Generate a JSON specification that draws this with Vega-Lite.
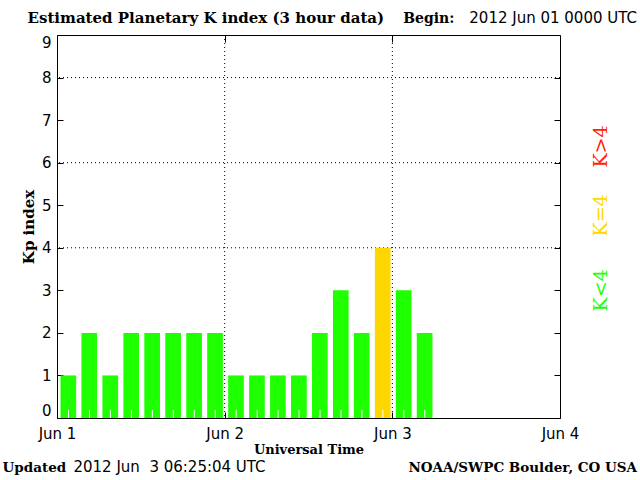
{
  "$schema": "https://vega.github.io/schema/vega-lite/v6.json",
  "width": 503,
  "height": 383,
  "autosize": {"type": "none"},
  "padding": {"left": 57, "top": 35, "right": 80, "bottom": 62},
  "background": "white",
  "config": {
    "view": {"stroke": "black", "strokeWidth": 1},
    "axis": {
      "labelFont": "DejaVu Sans",
      "labelFontSize": 15,
      "labelColor": "black",
      "titleFont": "DejaVu Serif",
      "titleFontWeight": "bold",
      "titleFontSize": 14,
      "titleColor": "black",
      "domain": false,
      "grid": false,
      "tickColor": "black",
      "tickWidth": 1
    }
  },
  "datasets": {
    "kp": [
      {"start": 0, "end": 3, "kp": 1},
      {"start": 3, "end": 6, "kp": 2},
      {"start": 6, "end": 9, "kp": 1},
      {"start": 9, "end": 12, "kp": 2},
      {"start": 12, "end": 15, "kp": 2},
      {"start": 15, "end": 18, "kp": 2},
      {"start": 18, "end": 21, "kp": 2},
      {"start": 21, "end": 24, "kp": 2},
      {"start": 24, "end": 27, "kp": 1},
      {"start": 27, "end": 30, "kp": 1},
      {"start": 30, "end": 33, "kp": 1},
      {"start": 33, "end": 36, "kp": 1},
      {"start": 36, "end": 39, "kp": 2},
      {"start": 39, "end": 42, "kp": 3},
      {"start": 42, "end": 45, "kp": 2},
      {"start": 45, "end": 48, "kp": 4},
      {"start": 48, "end": 51, "kp": 3},
      {"start": 51, "end": 54, "kp": 2}
    ],
    "one": [{}]
  },
  "resolve": {"axis": {"x": "independent", "y": "independent"}},
  "layer": [
    {
      "data": {"values": [{"level": 4}, {"level": 6}, {"level": 8}]},
      "mark": {"type": "rule", "color": "black", "strokeWidth": 1, "strokeDash": [1, 3]},
      "encoding": {
        "y": {
          "field": "level", "type": "quantitative",
          "scale": {"domain": [0, 9], "nice": false, "zero": false},
          "axis": {"orient": "right", "values": [0, 1, 2, 3, 4, 5, 6, 7, 8, 9], "labels": false, "tickSize": -6, "title": null}
        }
      }
    },
    {
      "data": {"values": [{"day": 24}, {"day": 48}]},
      "mark": {"type": "rule", "color": "black", "strokeWidth": 1, "strokeDash": [1, 3]},
      "encoding": {
        "x": {
          "field": "day", "type": "quantitative",
          "scale": {"domain": [0, 72], "nice": false, "zero": false},
          "axis": {"orient": "top", "values": [24, 48], "labels": false, "tickSize": -7, "title": null}
        }
      }
    },
    {
      "data": {"name": "kp"},
      "mark": {"type": "bar", "xOffset": 3.5, "x2Offset": -1.8},
      "encoding": {
        "x": {
          "field": "start", "type": "quantitative",
          "scale": {"domain": [0, 72], "nice": false, "zero": false},
          "axis": {
            "orient": "bottom", "values": [0, 24, 48, 72],
            "labelExpr": "'Jun ' + (datum.value / 24 + 1)",
            "tickSize": -6, "labelPadding": 14, "labelFlush": false,
            "title": "Universal Time", "titlePadding": 2, "titleFontSize": 13
          }
        },
        "x2": {"field": "end"},
        "y": {
          "field": "kp", "type": "quantitative",
          "scale": {"domain": [0, 9], "nice": false, "zero": false},
          "axis": {
            "orient": "left", "values": [0, 1, 2, 3, 4, 5, 6, 7, 8, 9],
            "tickSize": -6, "labelPadding": 12, "labelFlush": true, "labelFlushOffset": 0,
            "title": "Kp index", "titlePadding": 5, "titleFontSize": 15
          }
        },
        "y2": {"datum": 0},
        "color": {
          "condition": [
            {"test": "datum.kp > 4", "value": "#ff2200"},
            {"test": "datum.kp == 4", "value": "#ffd700"}
          ],
          "value": "#1eff00"
        }
      }
    },
    {
      "data": {"name": "kp"},
      "mark": {"type": "rule", "color": "white", "strokeWidth": 1, "xOffset": 11.5},
      "encoding": {
        "x": {"field": "start", "type": "quantitative", "scale": {"domain": [0, 72], "nice": false, "zero": false}, "axis": null},
        "y": {"datum": 0, "type": "quantitative", "scale": {"domain": [0, 9], "nice": false, "zero": false}, "axis": null},
        "y2": {"datum": 0.19}
      }
    },
    {
      "data": {"name": "one"},
      "mark": {"type": "text", "text": "Estimated Planetary K index (3 hour data)", "align": "left", "baseline": "alphabetic", "font": "DejaVu Serif", "fontWeight": "bold", "fontSize": 15, "color": "black"},
      "encoding": {
        "x": {"datum": -4.22, "type": "quantitative", "scale": {"domain": [0, 72], "nice": false, "zero": false}, "axis": null},
        "y": {"datum": 9.29, "type": "quantitative", "scale": {"domain": [0, 9], "nice": false, "zero": false}, "axis": null}
      }
    },
    {
      "data": {"name": "one"},
      "mark": {"type": "text", "text": "Begin:", "align": "left", "baseline": "alphabetic", "font": "DejaVu Serif", "fontWeight": "bold", "fontSize": 14, "color": "black"},
      "encoding": {
        "x": {"datum": 49.55, "type": "quantitative", "scale": {"domain": [0, 72], "nice": false, "zero": false}, "axis": null},
        "y": {"datum": 9.29, "type": "quantitative", "scale": {"domain": [0, 9], "nice": false, "zero": false}, "axis": null}
      }
    },
    {
      "data": {"name": "one"},
      "mark": {"type": "text", "text": "2012 Jun 01 0000 UTC", "align": "right", "baseline": "alphabetic", "font": "DejaVu Sans", "fontSize": 15, "color": "black"},
      "encoding": {
        "x": {"datum": 83.02, "type": "quantitative", "scale": {"domain": [0, 72], "nice": false, "zero": false}, "axis": null},
        "y": {"datum": 9.29, "type": "quantitative", "scale": {"domain": [0, 9], "nice": false, "zero": false}, "axis": null}
      }
    },
    {
      "data": {"name": "one"},
      "mark": {"type": "text", "text": "Updated", "align": "left", "baseline": "alphabetic", "font": "DejaVu Serif", "fontWeight": "bold", "fontSize": 13.5, "color": "black"},
      "encoding": {
        "x": {"datum": -7.79, "type": "quantitative", "scale": {"domain": [0, 72], "nice": false, "zero": false}, "axis": null},
        "y": {"datum": -1.28, "type": "quantitative", "scale": {"domain": [0, 9], "nice": false, "zero": false}, "axis": null}
      }
    },
    {
      "data": {"name": "one"},
      "mark": {"type": "text", "text": "2012 Jun \u00a03 06:25:04 UTC", "align": "left", "baseline": "alphabetic", "font": "DejaVu Sans", "fontSize": 15, "color": "black"},
      "encoding": {
        "x": {"datum": 2.36, "type": "quantitative", "scale": {"domain": [0, 72], "nice": false, "zero": false}, "axis": null},
        "y": {"datum": -1.28, "type": "quantitative", "scale": {"domain": [0, 9], "nice": false, "zero": false}, "axis": null}
      }
    },
    {
      "data": {"name": "one"},
      "mark": {"type": "text", "text": "NOAA/SWPC Boulder, CO USA", "align": "right", "baseline": "alphabetic", "font": "DejaVu Serif", "fontWeight": "bold", "fontSize": 13.5, "color": "black"},
      "encoding": {
        "x": {"datum": 83.02, "type": "quantitative", "scale": {"domain": [0, 72], "nice": false, "zero": false}, "axis": null},
        "y": {"datum": -1.28, "type": "quantitative", "scale": {"domain": [0, 9], "nice": false, "zero": false}, "axis": null}
      }
    },
    {
      "data": {"name": "one"},
      "mark": {"type": "text", "text": "K>4", "align": "center", "baseline": "middle", "angle": 270, "font": "DejaVu Serif", "fontSize": 19, "color": "#ff2200"},
      "encoding": {
        "x": {"datum": 77.9, "type": "quantitative", "scale": {"domain": [0, 72], "nice": false, "zero": false}, "axis": null},
        "y": {"datum": 6.38, "type": "quantitative", "scale": {"domain": [0, 9], "nice": false, "zero": false}, "axis": null}
      }
    },
    {
      "data": {"name": "one"},
      "mark": {"type": "text", "text": "K=4", "align": "center", "baseline": "middle", "angle": 270, "font": "DejaVu Serif", "fontSize": 19, "color": "#ffd700"},
      "encoding": {
        "x": {"datum": 77.9, "type": "quantitative", "scale": {"domain": [0, 72], "nice": false, "zero": false}, "axis": null},
        "y": {"datum": 4.76, "type": "quantitative", "scale": {"domain": [0, 9], "nice": false, "zero": false}, "axis": null}
      }
    },
    {
      "data": {"name": "one"},
      "mark": {"type": "text", "text": "K<4", "align": "center", "baseline": "middle", "angle": 270, "font": "DejaVu Serif", "fontSize": 19, "color": "#1eff00"},
      "encoding": {
        "x": {"datum": 77.9, "type": "quantitative", "scale": {"domain": [0, 72], "nice": false, "zero": false}, "axis": null},
        "y": {"datum": 3.0, "type": "quantitative", "scale": {"domain": [0, 9], "nice": false, "zero": false}, "axis": null}
      }
    }
  ]
}
